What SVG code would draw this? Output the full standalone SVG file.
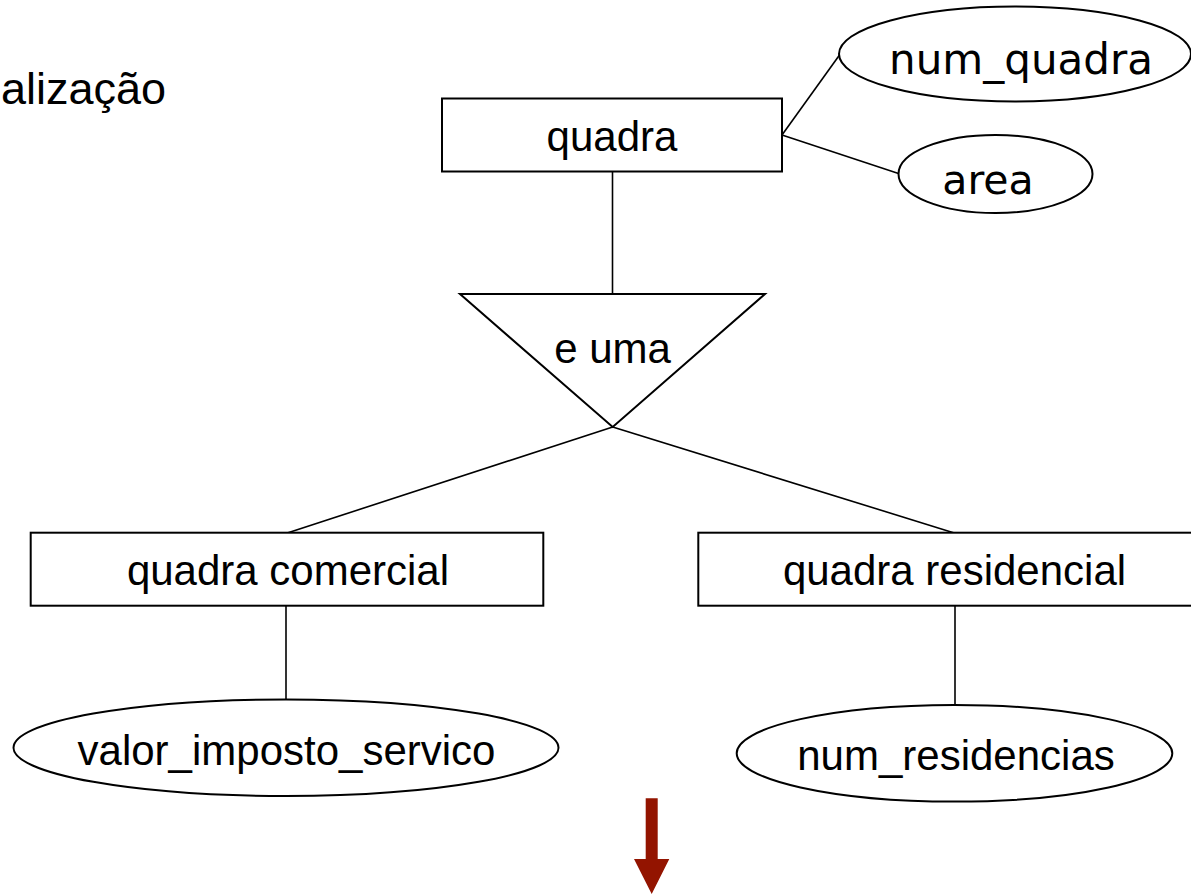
<svg xmlns="http://www.w3.org/2000/svg" width="1191" height="895" viewBox="0 0 1191 895">
<style>
.shape{fill:#fff;stroke:#000;stroke-width:2}
.conn{stroke:#000;stroke-width:1.6;fill:none}
.t{font-family:"Liberation Sans",Arial,sans-serif;font-size:42px;fill:#000;text-anchor:middle}
.tv{font-family:"DejaVu Sans",Verdana,sans-serif;font-size:41px;fill:#000;text-anchor:middle}
</style>
<rect width="1191" height="895" fill="#fff"/>
<text x="1" y="104" style="font-family:'Liberation Sans',Arial,sans-serif;font-size:45px;fill:#000">alização</text>
<g id="connectors">
<line class="conn" x1="782" y1="135" x2="839.5" y2="55"/>
<line class="conn" x1="782" y1="135" x2="898.5" y2="173.5"/>
<line class="conn" x1="612.5" y1="171.5" x2="612.5" y2="294"/>
<line class="conn" x1="612.7" y1="427" x2="288" y2="532.7"/>
<line class="conn" x1="612.7" y1="427" x2="953.5" y2="532.7"/>
<line class="conn" x1="286" y1="605.7" x2="286" y2="699.5"/>
<line class="conn" x1="955" y1="605.7" x2="955" y2="705"/>
</g>
<g id="num_quadra">
<ellipse class="shape" cx="1015" cy="54" rx="176" ry="47.5"/>
<text class="tv" x="1021" y="74" style="font-size:42px">num_quadra</text>
</g>
<g id="area">
<ellipse class="shape" cx="995.5" cy="174" rx="97" ry="39"/>
<text class="tv" x="988" y="193.5">area</text>
</g>
<g id="quadra">
<rect class="shape" x="442" y="98.5" width="340" height="73"/>
<text class="t" x="612" y="150.5">quadra</text>
</g>
<g id="e_uma">
<polygon class="shape" points="460,294 765,294 612.7,427"/>
<text class="t" x="612.5" y="363">e uma</text>
</g>
<g id="quadra_comercial">
<rect class="shape" x="30.7" y="532.7" width="512.6" height="73"/>
<text class="t" x="288" y="585">quadra comercial</text>
</g>
<g id="quadra_residencial">
<rect class="shape" x="698.3" y="532.7" width="514" height="73"/>
<text class="t" x="954.5" y="585">quadra residencial</text>
</g>
<g id="valor_imposto_servico">
<ellipse class="shape" cx="286" cy="747.7" rx="272.5" ry="48.3"/>
<text class="t" x="286.5" y="764.5">valor_imposto_servico</text>
</g>
<g id="num_residencias">
<ellipse class="shape" cx="954.5" cy="753.3" rx="217.8" ry="48.3"/>
<text class="t" x="956" y="770">num_residencias</text>
</g>
<g id="arrow">
<polygon fill="#931400" points="645.7,798.3 657.7,798.3 657.7,859 669.3,859 651.7,894 634,859 645.7,859"/>
</g>
</svg>
